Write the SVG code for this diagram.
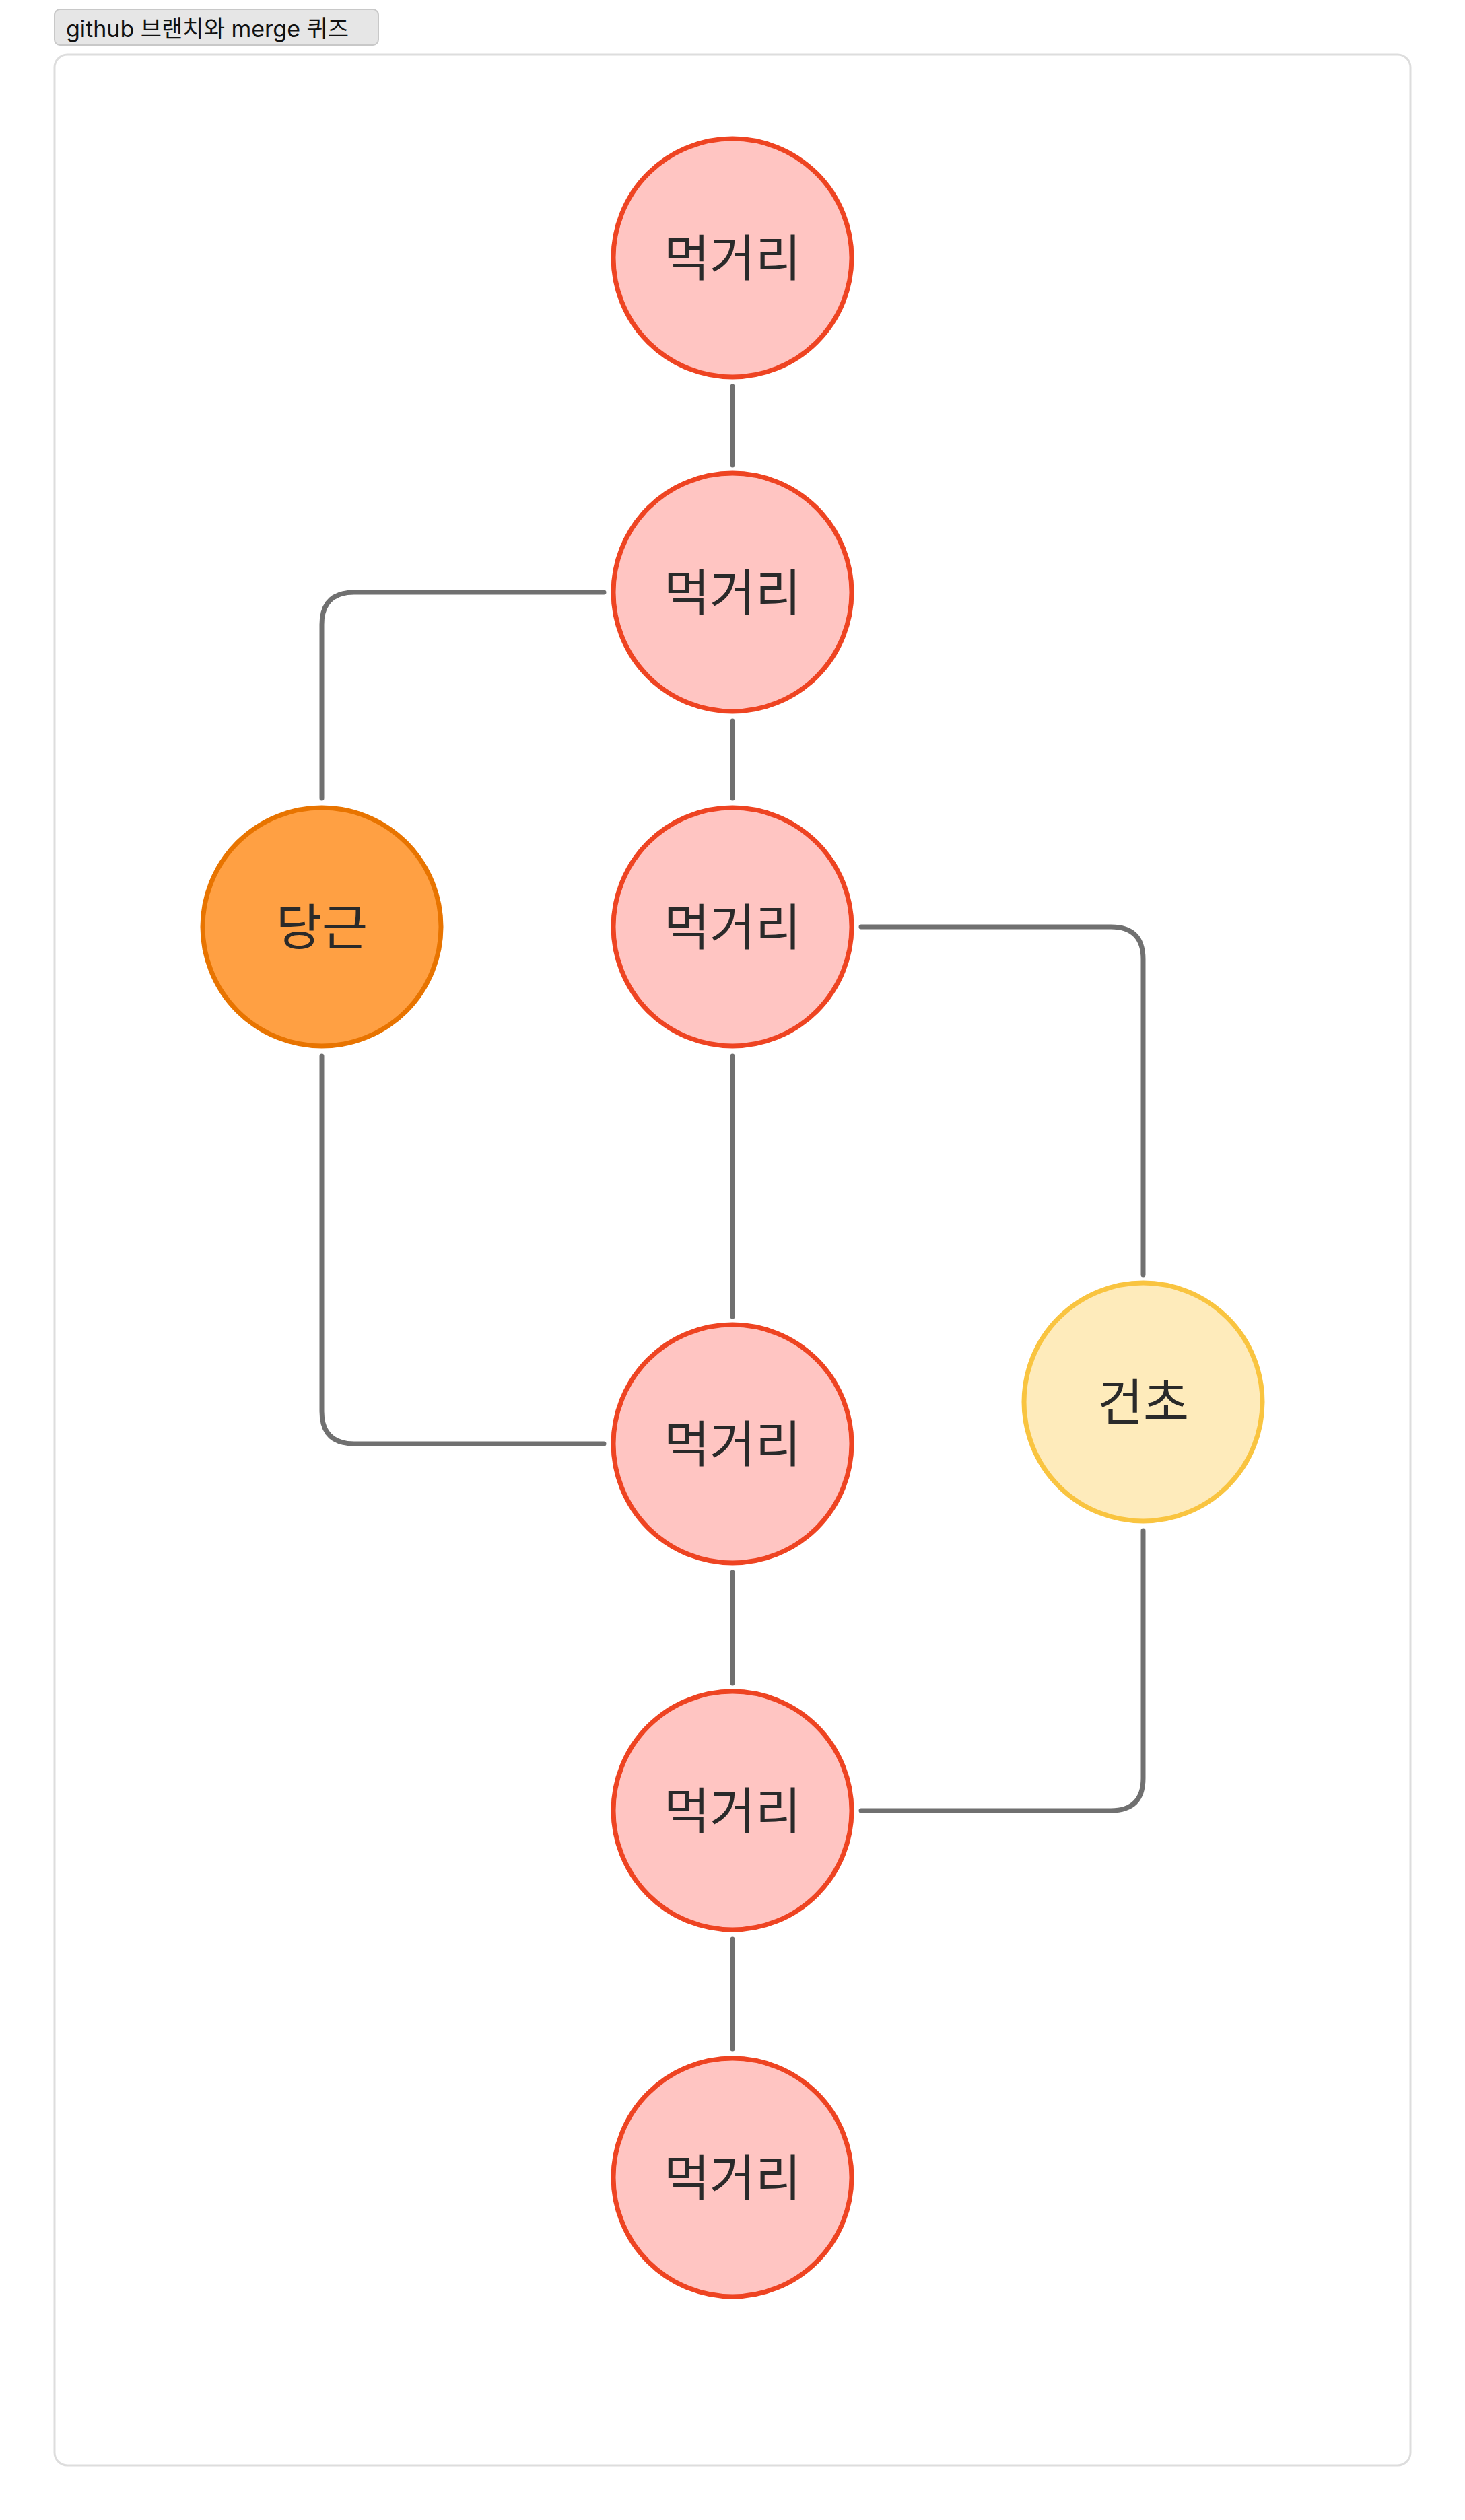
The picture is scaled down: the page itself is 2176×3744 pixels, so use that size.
<svg xmlns="http://www.w3.org/2000/svg" width="2176" height="3744" viewBox="0 0 2176 3744">
<style>
.n{stroke-width:7}
.p{fill:#FFC5C2;stroke:#EE4422}
.t{font-family:Inter,"Noto Sans CJK KR",sans-serif;font-size:74px;fill:#2a2a2a;text-anchor:middle;dominant-baseline:central}
.c{fill:none;stroke:#707070;stroke-width:7;stroke-linecap:round}
</style>
<rect width="2176" height="3744" fill="#fff"/>
<rect x="81" y="81" width="2014" height="3582" rx="19" fill="none" stroke="#dddddd" stroke-width="3"/>
<g id="title"><rect x="81" y="14" width="481" height="53" rx="8" fill="#e6e6e6" stroke="#c8c8c8" stroke-width="2"/>
<text x="98" y="42" font-family="Inter,'Noto Sans CJK KR',sans-serif" font-size="34" fill="#111" dominant-baseline="central">github 브랜치와 merge 퀴즈</text></g>
<g id="connectors">
<line class="c" x1="1088" y1="574" x2="1088" y2="691"/>
<line class="c" x1="1088" y1="1071" x2="1088" y2="1186"/>
<line class="c" x1="1088" y1="1569" x2="1088" y2="1956"/>
<line class="c" x1="1088" y1="2336" x2="1088" y2="2501"/>
<line class="c" x1="1088" y1="2881" x2="1088" y2="3044"/>
<path class="c" d="M897 880 H526 Q478 880 478 928 V1186"/>
<path class="c" d="M478 1569 V2097 Q478 2145 526 2145 H897"/>
<path class="c" d="M1279 1377 H1650 Q1698 1377 1698 1425 V1894"/>
<path class="c" d="M1698 2274 V2642 Q1698 2690 1650 2690 H1279"/>
</g>
<g id="n1"><circle class="n p" cx="1088" cy="383" r="177"/><text class="t" x="1088" y="383">먹거리</text></g>
<g id="n2"><circle class="n p" cx="1088" cy="880" r="177"/><text class="t" x="1088" y="880">먹거리</text></g>
<g id="n3"><circle class="n p" cx="1088" cy="1377" r="177"/><text class="t" x="1088" y="1377">먹거리</text></g>
<g id="n4"><circle class="n p" cx="1088" cy="2145" r="177"/><text class="t" x="1088" y="2145">먹거리</text></g>
<g id="n5"><circle class="n p" cx="1088" cy="2690" r="177"/><text class="t" x="1088" y="2690">먹거리</text></g>
<g id="n6"><circle class="n p" cx="1088" cy="3235" r="177"/><text class="t" x="1088" y="3235">먹거리</text></g>
<g id="carrot"><circle class="n" cx="478" cy="1377" r="177" fill="#FFA043" stroke="#E87400"/><text class="t" x="478" y="1377">당근</text></g>
<g id="geoncho"><circle class="n" cx="1698" cy="2083" r="177" fill="#FEEBBB" stroke="#F9C440"/><text class="t" x="1698" y="2083">건초</text></g>
</svg>
